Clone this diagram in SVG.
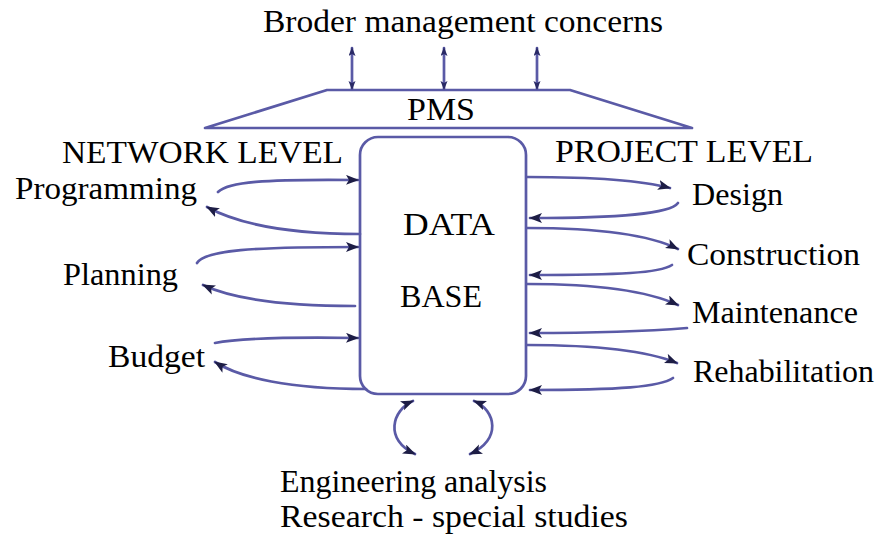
<svg xmlns="http://www.w3.org/2000/svg" width="878" height="535" viewBox="0 0 878 535">
  <style>
    text { font-family: 'Liberation Serif', 'Times New Roman', Times, serif; font-size: 31px; fill: #000; }
    .ln { fill: none; stroke: #5a5aa6; stroke-width: 2.7; stroke-linecap: round; }
    .arr { marker-end: url(#head); }
    .dbl { marker-start: url(#head); marker-end: url(#head); }
    .vdbl { marker-start: url(#small); marker-end: url(#small); }
  </style>
  <defs>
    <marker id="head" markerUnits="userSpaceOnUse" markerWidth="14" markerHeight="12" refX="12" refY="5" orient="auto-start-reverse">
      <path d="M0,0 L13,5 L0,10 L3,5 z" fill="#1d1d45"/>
    </marker>
    <marker id="small" markerUnits="userSpaceOnUse" markerWidth="10" markerHeight="8" refX="8" refY="3.5" orient="auto-start-reverse">
      <path d="M0,0 L9,3.5 L0,7 L2,3.5 z" fill="#2a2a66"/>
    </marker>
  </defs>

  <rect width="878" height="535" fill="#ffffff"/>

  <g font-family="Liberation Serif, serif">
  <!-- top label and PMS trapezoid -->
  <g id="concerns">
    <text x="263" y="32" textLength="400" lengthAdjust="spacingAndGlyphs">Broder management concerns</text>
  </g>
  <g id="pms">
    <polygon points="205,128 327,90 570,90 692,128" fill="none" stroke="#5a5aa6" stroke-width="2.7" stroke-linejoin="round"/>
    <text x="407" y="120" textLength="68" lengthAdjust="spacingAndGlyphs">PMS</text>
  </g>

  <!-- central data base -->
  <g id="database">
    <rect x="360" y="137" width="166" height="257" rx="18" fill="#fff" stroke="#5a5aa6" stroke-width="2.7"/>
    <text x="403" y="235" textLength="92" lengthAdjust="spacingAndGlyphs">DATA</text>
    <text x="400" y="307" textLength="82" lengthAdjust="spacingAndGlyphs">BASE</text>
  </g>

  <!-- side headings -->
  <g id="network-level">
    <text x="62" y="163" textLength="281" lengthAdjust="spacingAndGlyphs">NETWORK LEVEL</text>
  </g>
  <g id="project-level">
    <text x="555" y="162" textLength="258" lengthAdjust="spacingAndGlyphs">PROJECT LEVEL</text>
  </g>

  <!-- network level activities -->
  <g id="programming"><text x="15" y="199" textLength="182" lengthAdjust="spacingAndGlyphs">Programming</text></g>
  <g id="planning"><text x="63" y="285" textLength="115" lengthAdjust="spacingAndGlyphs">Planning</text></g>
  <g id="budget"><text x="108" y="367" textLength="97" lengthAdjust="spacingAndGlyphs">Budget</text></g>

  <!-- project level activities -->
  <g id="design"><text x="692" y="205" textLength="91" lengthAdjust="spacingAndGlyphs">Design</text></g>
  <g id="construction"><text x="687" y="265" textLength="173" lengthAdjust="spacingAndGlyphs">Construction</text></g>
  <g id="maintenance"><text x="692" y="323" textLength="166" lengthAdjust="spacingAndGlyphs">Maintenance</text></g>
  <g id="rehabilitation"><text x="693" y="382" textLength="181" lengthAdjust="spacingAndGlyphs">Rehabilitation</text></g>

  <!-- analysis below -->
  <g id="analysis">
    <text x="280" y="492" textLength="267" lengthAdjust="spacingAndGlyphs">Engineering analysis</text>
    <text x="280" y="527" textLength="348" lengthAdjust="spacingAndGlyphs">Research - special studies</text>
  </g>
  </g>

  <!-- connectors -->
  <g id="connectors">
    <!-- PMS to broader concerns -->
    <line class="ln vdbl" x1="352" y1="89" x2="352" y2="48" stroke-width="2"/>
    <line class="ln vdbl" x1="444" y1="89" x2="444" y2="48" stroke-width="2"/>
    <line class="ln vdbl" x1="537" y1="89" x2="537" y2="48" stroke-width="2"/>

    <!-- network level loops -->
    <path class="ln arr" d="M218,192 C228,182 262,179 358,180"/>
    <path class="ln arr" d="M360,234 C290,234 240,225 207,207"/>
    <path class="ln arr" d="M197,263 C205,250 252,247 358,247"/>
    <path class="ln arr" d="M355,306 C290,306 235,300 203,285"/>
    <path class="ln arr" d="M215,343 C240,338 290,337 358,338"/>
    <path class="ln arr" d="M366,389 C290,389 240,378 215,362"/>

    <!-- project level loops -->
    <path class="ln arr" d="M527,177 C590,177 640,180 670,188"/>
    <path class="ln arr" d="M678,203 C670,214 620,218 530,218"/>
    <path class="ln arr" d="M527,228 C600,228 650,235 678,249"/>
    <path class="ln arr" d="M672,265 C660,273 620,275 530,275"/>
    <path class="ln arr" d="M527,284 C600,284 650,292 678,305"/>
    <path class="ln arr" d="M687,328 C650,331 600,333 530,333"/>
    <path class="ln arr" d="M527,345 C600,345 650,352 677,363"/>
    <path class="ln arr" d="M673,378 C660,387 620,390 530,390"/>

    <!-- analysis exchange -->
    <path class="ln dbl" d="M413,401 C392,410 384,440 415,454"/>
    <path class="ln dbl" d="M474,401 C496,410 502,440 470,454"/>
  </g>
</svg>
